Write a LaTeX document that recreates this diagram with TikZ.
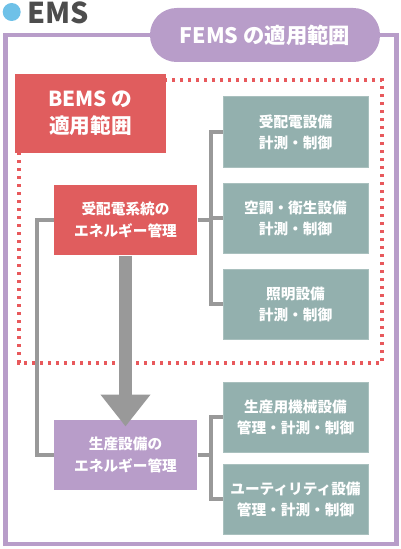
\documentclass[tikz,border=0pt]{standalone}
\usepackage{fontspec}
\setmainfont{Noto Sans CJK JP}
\usetikzlibrary{arrows.meta}

\definecolor{femspurple}{RGB}{184,157,201}
\definecolor{bemsred}{RGB}{224,93,94}
\definecolor{dotred}{RGB}{232,89,92}
\definecolor{unitteal}{RGB}{147,176,174}
\definecolor{linkgray}{RGB}{153,153,153}
\definecolor{emsblue}{RGB}{110,193,232}
\definecolor{emsgray}{RGB}{77,77,77}

\tikzset{every picture/.style={line width=0.75pt}}
\tikzset{
  unitbox/.style={fill=unitteal, draw=unitteal!80!white, line width=0.75pt, minimum width=108.75pt, minimum height=52.5pt, inner sep=0pt, align=center, text=white, font=\fontsize{11}{15.75}\selectfont\bfseries},
  mgmtbox/.style={minimum width=107.25pt, minimum height=52.5pt, inner sep=0pt, align=center, text=white, font=\fontsize{11}{16.5}\selectfont\bfseries},
  linkline/.style={draw=linkgray, line width=3pt}
}

\begin{document}
\begin{tikzpicture}[x=0.75pt,y=0.75pt,yscale=-1,xscale=1]
\useasboundingbox (0,0) rectangle (400,549);

%Title
\fill [emsblue] (11.7,12) circle (6.75pt);
\node (ems) [anchor=west, text=emsgray, inner sep=0pt, font=\fontsize{21.5}{21.5}\selectfont\bfseries] at (26.5,12.5) {EMS};

%FEMS frame
\draw [femspurple, line width=3.4pt] (5.5,35) rectangle (396.5,544);
\node (fems) [fill=femspurple, rounded corners=20pt, minimum width=172.5pt, minimum height=40.5pt, inner sep=0pt, text=white, font=\fontsize{16}{16}\selectfont\bfseries] at (265,35) {FEMS の適用範囲};

%BEMS frame (dotted)
\draw [dotred, line width=3pt, dash pattern=on 2.6pt off 3.4pt] (19,80) rectangle (382,363);
\node (bems) [fill=bemsred, minimum width=113.25pt, minimum height=59.25pt, inner sep=0pt, align=center, text=white, font=\fontsize{15.5}{20}\selectfont\bfseries] at (90.5,113.5) {BEMS の\\適用範囲};

%Management boxes
\node (grid) [mgmtbox, fill=bemsred] at (125.5,220) {受配電系統の\\エネルギー管理};
\node (prod) [mgmtbox, fill=femspurple] at (125.5,455) {生産設備の\\エネルギー管理};

%Unit boxes
\node (recv) [unitbox] at (295.5,132) {受配電設備\\計測・制御};
\node (hvac) [unitbox] at (295.5,218) {空調・衛生設備\\計測・制御};
\node (light) [unitbox] at (295.5,304) {照明設備\\計測・制御};
\node (mach) [unitbox] at (295.5,417) {生産用機械設備\\管理・計測・制御};
\node (util) [unitbox] at (295.5,499) {ユーティリティ設備\\管理・計測・制御};

%Connectors
\draw [linkline] (grid.east) -- (211,220);
\draw [linkline] (recv.west) -| (211,220) |- (light.west);
\draw [linkline] (211,218) -- (hvac.west);
\draw [linkline] (grid.west) -- (37,220) |- (prod.west);
\draw [linkline] (prod.east) -- (211,455);
\draw [linkline] (mach.west) -| (211,455) |- (util.west);

%Big arrow
\draw [linkgray, line width=9.75pt, -{Triangle[width=36pt, length=24pt]}] (grid.south) -- ([yshift=5.25pt]prod.north);

\end{tikzpicture}
\end{document}
